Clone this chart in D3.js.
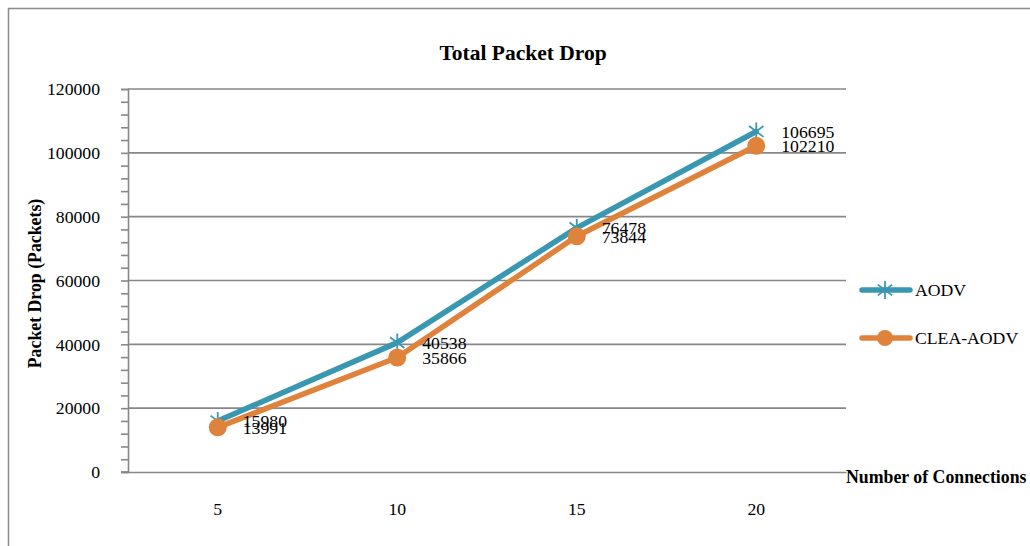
<!DOCTYPE html>
<html>
<head>
<meta charset="utf-8">
<script src="https://cdn.jsdelivr.net/npm/d3@7"></script>
<style>
  html, body { margin: 0; padding: 0; background: #fff; }
  svg { display: block; font-family: "Liberation Serif", "Times New Roman", serif; }
</style>
</head>
<body>
<svg id="chart" width="1030" height="546"></svg>
<script>
// Total packet drop per number of connections
const categories = ["5", "10", "15", "20"];
const aodv = [15980, 40538, 76478, 106695];
const cleaAodv = [13991, 35866, 73844, 102210];
const yTicks = [0, 20000, 40000, 60000, 80000, 100000, 120000];
const seriesNames = ["AODV", "CLEA-AODV"];
const seriesColors = ["#3a97b1", "#df823b"];

const svg = d3.select("#chart");
const plot = { left: 128, right: 846, top: 89, bottom: 472 };
const fs = 17.7;

// outer chart frame
svg.append("rect")
  .attr("x", 8.5).attr("y", 8.5)
  .attr("width", 1040).attr("height", 560)
  .attr("fill", "none").attr("stroke", "#8c8c8c").attr("stroke-width", 1.5);

const x = d3.scaleBand().domain(categories).range([plot.left, plot.right]);
const y = d3.scaleLinear().domain([0, 120000]).range([plot.bottom, plot.top]);

// horizontal gridlines
svg.append("g").selectAll("line").data(yTicks.filter(d => d > 0)).join("line")
  .attr("x1", plot.left).attr("x2", plot.right)
  .attr("y1", d => y(d)).attr("y2", d => y(d))
  .attr("stroke", "#878787").attr("stroke-width", 1.6);

// y axis with major and minor ticks
const yAxis = svg.append("g").attr("transform", `translate(${plot.left},0)`)
  .call(d3.axisLeft(y).tickValues(d3.range(0, 120001, 4000)).tickSize(7).tickFormat(""));
yAxis.select(".domain").attr("stroke", "#878787").attr("stroke-width", 1.6);
yAxis.selectAll(".tick line").attr("stroke", "#878787").attr("stroke-width", 1.6);

svg.append("g").selectAll("text").data(yTicks).join("text")
  .attr("x", 100).attr("y", d => y(d))
  .attr("dy", "0.35em").attr("text-anchor", "end")
  .attr("font-size", fs).attr("fill", "#000")
  .text(d => d);

// x axis baseline
const xAxis = svg.append("g").attr("transform", `translate(0,${plot.bottom})`)
  .call(d3.axisBottom(x).tickSize(0).tickFormat(""));
xAxis.select(".domain").attr("stroke", "#878787").attr("stroke-width", 1.6);
svg.append("line")
  .attr("x1", plot.left - 7).attr("x2", plot.left)
  .attr("y1", plot.bottom).attr("y2", plot.bottom)
  .attr("stroke", "#878787").attr("stroke-width", 1.6);

svg.append("g").selectAll("text").data(categories).join("text")
  .attr("x", d => x(d) + x.bandwidth() / 2).attr("y", 509)
  .attr("dy", "0.35em").attr("text-anchor", "middle")
  .attr("font-size", fs).text(d => d);

// titles
svg.append("text").attr("x", 523).attr("y", 52).attr("dy", "0.35em")
  .attr("text-anchor", "middle").attr("font-size", 21.5).attr("font-weight", "bold")
  .text("Total Packet Drop");
svg.append("text")
  .attr("transform", `translate(35,${(plot.top + plot.bottom) / 2 + 3}) rotate(-90)`)
  .attr("dy", "0.35em").attr("text-anchor", "middle")
  .attr("font-size", 17.8).attr("font-weight", "bold")
  .text("Packet Drop (Packets)");
svg.append("text").attr("x", 846).attr("y", 477).attr("dy", "0.35em")
  .attr("font-size", 17.8).attr("font-weight", "bold")
  .text("Number of Connections");

const cx = c => x(c) + x.bandwidth() / 2;
const line = d3.line().x((d, i) => cx(categories[i])).y(d => y(d));

// asterisk marker: vertical stroke plus two diagonals
function star(g, px, py, color) {
  const r = 9;
  const dx = r * 0.8, dy = r * 0.6;
  [[0, -r, 0, r], [-dx, -dy, dx, dy], [-dx, dy, dx, -dy]]
    .forEach(s => g.append("line")
      .attr("x1", px + s[0]).attr("y1", py + s[1])
      .attr("x2", px + s[2]).attr("y2", py + s[3])
      .attr("stroke", color).attr("stroke-width", 1.8));
}

const series = [aodv, cleaAodv];
series.forEach((vals, k) => {
  svg.append("path").datum(vals)
    .attr("d", line).attr("fill", "none")
    .attr("stroke", seriesColors[k]).attr("stroke-width", 5.5)
    .attr("stroke-linejoin", "round").attr("stroke-linecap", "round");
});

const markers = svg.append("g");
aodv.forEach((v, i) => star(markers, cx(categories[i]), y(v), seriesColors[0]));
markers.selectAll("circle").data(cleaAodv).join("circle")
  .attr("cx", (d, i) => cx(categories[i])).attr("cy", d => y(d))
  .attr("r", 9).attr("fill", seriesColors[1]);

// data labels
series.forEach((vals, k) => {
  svg.append("g").selectAll("text").data(vals).join("text")
    .attr("x", (d, i) => cx(categories[i]) + 25).attr("y", d => y(d))
    .attr("dy", "0.35em").attr("font-size", fs).text(d => d);
});

// legend
const legendY = [290, 338];
seriesNames.forEach((name, k) => {
  const g = svg.append("g");
  g.append("line").attr("x1", 862).attr("x2", 910)
    .attr("y1", legendY[k]).attr("y2", legendY[k])
    .attr("stroke", seriesColors[k]).attr("stroke-width", 5.5).attr("stroke-linecap", "round");
  if (k === 0) star(g, 885, legendY[k], seriesColors[0]);
  else g.append("circle").attr("cx", 885).attr("cy", legendY[k]).attr("r", 8).attr("fill", seriesColors[1]);
  g.append("text").attr("x", 915).attr("y", legendY[k]).attr("dy", "0.35em")
    .attr("font-size", fs).text(name);
});
</script>
</body>
</html>
